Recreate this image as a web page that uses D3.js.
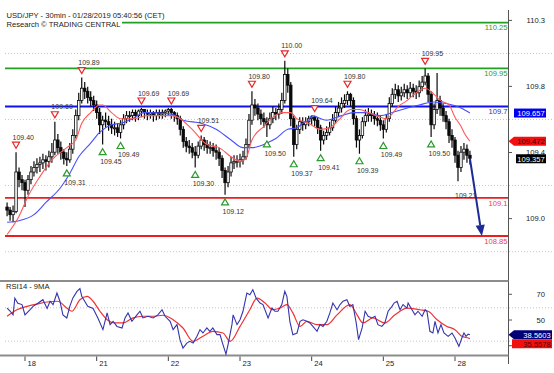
<!DOCTYPE html>
<html>
<head>
<meta charset="utf-8">
<script src="https://cdnjs.cloudflare.com/ajax/libs/d3/7.8.5/d3.min.js"></script>
<style>
  html, body { margin: 0; padding: 0; background: #fff; }
  svg { display: block; font-family: "Liberation Sans", Arial, sans-serif; }
</style>
</head>
<body>
<div id="chart"></div>
<script>
// hourly bars, index 0 = first bar on the left
var firstOpen = 109.04;
var closes = [109.02,108.99,109.01,109.27,109.22,109.20,109.15,109.22,109.27,109.30,
  109.32,109.33,109.35,109.34,109.37,109.40,109.48,109.43,109.40,109.36,
  109.35,109.42,109.51,109.64,109.74,109.82,109.80,109.76,109.74,109.71,
  109.66,109.58,109.61,109.60,109.58,109.56,109.56,109.53,109.58,109.62,
  109.64,109.64,109.66,109.64,109.67,109.68,109.66,109.65,109.66,109.64,
  109.66,109.65,109.66,109.67,109.68,109.66,109.64,109.62,109.55,109.47,
  109.44,109.43,109.40,109.38,109.44,109.48,109.45,109.43,109.43,109.41,
  109.40,109.36,109.28,109.20,109.27,109.33,109.34,109.34,109.35,109.37,
  109.45,109.61,109.71,109.69,109.65,109.62,109.60,109.58,109.62,109.66,
  109.65,109.68,109.74,109.91,109.84,109.62,109.45,109.55,109.60,109.58,
  109.60,109.62,109.63,109.61,109.56,109.48,109.51,109.53,109.56,109.61,
  109.66,109.69,109.72,109.74,109.78,109.74,109.62,109.48,109.51,109.60,
  109.64,109.65,109.64,109.62,109.61,109.58,109.55,109.62,109.72,109.78,
  109.81,109.77,109.79,109.81,109.79,109.82,109.80,109.79,109.83,109.86,
  109.90,109.78,109.58,109.68,109.74,109.69,109.64,109.60,109.51,109.48,
  109.38,109.30,109.40,109.42,109.38,109.36];
var highs = [109.07,109.04,109.05,109.40,109.30,109.25,109.22,109.25,109.31,109.34,
  109.36,109.37,109.39,109.38,109.41,109.46,109.60,109.52,109.47,109.42,
  109.40,109.46,109.55,109.68,109.79,109.89,109.86,109.83,109.80,109.77,
  109.74,109.69,109.64,109.66,109.64,109.62,109.60,109.59,109.61,109.65,
  109.67,109.67,109.68,109.68,109.68,109.69,109.68,109.68,109.68,109.67,
  109.68,109.68,109.68,109.68,109.69,109.69,109.67,109.66,109.64,109.57,
  109.50,109.48,109.46,109.44,109.47,109.51,109.50,109.48,109.47,109.46,
  109.45,109.43,109.38,109.30,109.31,109.37,109.38,109.38,109.39,109.41,
  109.49,109.65,109.80,109.75,109.72,109.68,109.66,109.63,109.66,109.70,
  109.69,109.72,109.79,110.00,109.95,109.86,109.64,109.58,109.63,109.63,
  109.63,109.64,109.64,109.64,109.63,109.58,109.54,109.57,109.60,109.65,
  109.70,109.73,109.76,109.78,109.80,109.79,109.76,109.64,109.55,109.63,
  109.68,109.69,109.68,109.67,109.66,109.64,109.61,109.65,109.76,109.82,
  109.85,109.84,109.83,109.85,109.84,109.86,109.85,109.84,109.87,109.90,
  109.95,109.92,109.80,109.72,109.92,109.77,109.72,109.67,109.62,109.55,
  109.50,109.41,109.44,109.46,109.45,109.41];
var lows = [108.98,108.95,108.94,109.00,109.17,109.15,109.04,109.12,109.19,109.24,
  109.26,109.27,109.29,109.28,109.30,109.33,109.38,109.39,109.35,109.32,
  109.31,109.33,109.39,109.49,109.61,109.72,109.75,109.72,109.70,109.67,
  109.62,109.52,109.45,109.56,109.54,109.52,109.51,109.50,109.49,109.55,
  109.59,109.60,109.61,109.60,109.61,109.63,109.62,109.61,109.62,109.60,
  109.61,109.62,109.62,109.63,109.64,109.62,109.60,109.58,109.51,109.43,
  109.40,109.39,109.36,109.30,109.36,109.42,109.41,109.39,109.39,109.37,
  109.35,109.31,109.23,109.12,109.17,109.24,109.29,109.30,109.30,109.32,
  109.35,109.43,109.58,109.64,109.61,109.58,109.56,109.50,109.55,109.59,
  109.61,109.62,109.65,109.72,109.79,109.57,109.37,109.42,109.52,109.54,
  109.55,109.57,109.58,109.57,109.52,109.41,109.45,109.48,109.51,109.54,
  109.59,109.63,109.66,109.69,109.71,109.70,109.58,109.43,109.39,109.49,
  109.57,109.60,109.60,109.58,109.57,109.54,109.49,109.53,109.60,109.70,
  109.75,109.73,109.74,109.76,109.75,109.76,109.76,109.75,109.76,109.80,
  109.84,109.73,109.50,109.55,109.65,109.64,109.60,109.55,109.46,109.43,
  109.33,109.21,109.27,109.35,109.33,109.32];

// moving averages: [bar index, value]
var fastMA = [[0,108.86],[4,108.98],[7,109.11],[11,109.24],[15,109.35],[20,109.43],[23,109.48],[25,109.59],
  [28,109.66],[31,109.71],[32,109.71],[35,109.66],[38,109.62],[42,109.62],[47,109.64],[51,109.64],[55,109.64],
  [58,109.62],[62,109.55],[67,109.45],[71,109.43],[75,109.37],[78,109.34],[80,109.36],[82,109.48],[86,109.57],
  [89,109.63],[92,109.66],[95,109.66],[97,109.62],[101,109.59],[105,109.55],[108,109.56],[111,109.61],
  [115,109.68],[118,109.68],[121,109.66],[125,109.63],[127,109.62],[131,109.70],[134,109.74],[137,109.79],
  [140,109.82],[143,109.78],[145,109.74],[148,109.71],[150,109.63],[152,109.57],[153,109.53],[155,109.472]];
var slowMA = [[0,108.94],[4,108.95],[9,108.99],[13,109.07],[18,109.17],[21,109.26],[24,109.37],[28,109.46],
  [31,109.53],[35,109.58],[38,109.59],[42,109.62],[46,109.66],[48,109.66],[55,109.65],[59,109.61],[65,109.59],
  [70,109.55],[75,109.48],[79,109.43],[82,109.43],[87,109.46],[90,109.49],[94,109.55],[97,109.56],[99,109.59],
  [101,109.61],[102,109.64],[107,109.61],[112,109.64],[116,109.66],[120,109.66],[125,109.64],[129,109.66],
  [134,109.69],[138,109.71],[143,109.73],[147,109.72],[152,109.69],[155,109.657]];

var highMarks = [[3,109.40],[16,109.60],[25,109.89],[45,109.69],[55,109.69],[65,109.51],[82,109.80],
  [93,110.00],[103,109.64],[114,109.80],[140,109.95]];
var lowMarks = [[20,109.31],[32,109.45],[38,109.49],[63,109.30],[73,109.12],[87,109.50],[96,109.37],
  [105,109.41],[118,109.39],[126,109.49],[142,109.50]];
var openLow = [151, 109.21];

var resistances = [110.25, 109.95];
var pivots = [109.7];
var supports = [109.1, 108.85];
var forecast = [[155, 109.357], [159, 108.85]];

var priceTicks = [110.265, 109.832, 109.398, 108.964];
var priceGrid = [110.048, 109.615, 109.181, 108.747];
var lastPrice = 109.357;

var rsi14 = [[0,59.3],[1,57],[2,54],[2.6,67],[3.6,63],[5,62],[6,54],[7.7,58],[8.7,60.6],[10.3,63],[12,65.8],
  [13.4,59],[14.4,64.6],[15.4,62],[16.7,71],[17.7,64.6],[18.7,54],[20,51.6],[21,60.6],[22,67],[23.4,72.3],
  [24.4,74.4],[25,68.4],[26,64.6],[27,60.6],[28.8,59],[30.4,51.6],[32.1,42.5],[33.5,55.5],[34.5,46.4],
  [35.5,49],[36.8,45],[38.5,43.8],[39.5,51.6],[40.5,55.5],[41.8,49],[43.5,54],[44.5,56.8],[45.5,51.6],
  [47.2,52.9],[48.9,51.6],[50.5,54],[51.9,58],[52.9,52.9],[54.6,49],[55.6,42.5],[56.9,46.4],[57.9,34.7],
  [58.9,28.2],[60.2,32],[61.2,33.4],[62.3,32],[63.6,37.3],[64.6,42.5],[65.6,39.9],[66.9,43.8],[67.9,41.2],
  [68.9,43.8],[70.3,38.6],[71.3,38.6],[72.3,30.8],[73.3,23.5],[74,30.8],[75.3,46.4],[75.7,54],[77,46.4],
  [78,50.2],[79,56.8],[80.3,71],[81.3,69.7],[82.3,73.6],[83.4,67],[84.7,63.2],[85.7,62],[87,54],[87.4,51.6],
  [88.7,59.3],[89.7,56.8],[90.7,56.8],[92,62],[93,72.3],[93.7,68.4],[94.7,49],[95.7,38.6],[97.1,39.9],
  [98.1,49],[99.1,50.2],[100.4,49],[101.4,47.7],[102.4,45],[103.8,41.2],[104.8,46.4],[105.8,45],[107.1,49],
  [108.1,55.5],[109.1,63.2],[110.5,58],[111.5,62],[112.5,64.6],[113.8,65.8],[114.8,60.6],[115.8,62],
  [116.9,48],[117.7,34.7],[118.9,43.8],[119.9,56.8],[120.9,52.9],[122.2,51.6],[123.2,52.9],[124.2,46.4],
  [125.5,45],[126.5,47.7],[127.6,56.8],[128.9,60.6],[129.6,63.2],[130.6,64.6],[131.6,58],[132.6,62],
  [133.9,59.3],[134.3,63.2],[135.6,58],[136.6,54],[137.6,56.8],[139,52.9],[140,58],[140.6,56.8],[141.6,41.2],
  [142.6,39.9],[143.3,49],[144.3,39.9],[145.3,46.4],[146.3,39.9],[147.7,37.3],[149,39.9],[150,36],
  [151.3,29.5],[152.3,36],[153,39.9],[153.7,37.3],[154.4,39],[155,38.5603]];
var rsiMA = [[0,53],[3.3,58],[6.7,60.6],[10,62.4],[13.4,64],[17,64.6],[20,59.3],[21.7,56.8],[24.4,65.8],
  [26.8,68.4],[28.8,64.6],[31.1,56.8],[33.5,50.2],[36.1,47.7],[38.8,47.7],[42.2,51.6],[45.5,52.9],[48.9,52.9],
  [52.2,53.7],[55.6,50.2],[58.9,43.8],[62.3,33.4],[65.6,37.3],[68.9,41.2],[72.3,39.9],[74.7,33.4],[78,45],
  [81.3,58],[83.7,67],[86.4,63.2],[89,58],[91.4,59.3],[93.7,62],[95.7,55.5],[98.1,45],[100.4,49],[103.8,46.4],
  [107.1,46.4],[110.5,54],[114.8,62],[117.2,54],[119.2,47.7],[122.5,51.6],[126.5,47.7],[129.9,54],
  [133.9,59.3],[138.3,58],[141,56.8],[144,50.2],[147.3,45],[150,42.5],[152.3,37.3],[154.4,36],[155,35.5578]];
var rsiTicks = [70, 50, 30];
var rsiTickLabels = ['70', '50', ''];   // the 30 label sits under the value box
var rsiGrid = [59.5, 33.5];

var dayStarts = [6, 30, 54, 78, 102, 126, 150];
var dayLabels = ['18', '21', '22', '23', '24', '25', '28'];

var W = 554, H = 373, plotL = 5, axisX = 508.5;
var FS = '7.6px';

var svg = d3.select('#chart').append('svg').attr('width', W).attr('height', H)
  .style('font-size', FS);

var x = d3.scaleLinear().domain([6, 150]).range([25, 455]);
var y = d3.scaleLinear().domain([110.25, 108.85]).range([22.7, 236]);
var yr = d3.scaleLinear().domain([70, 30]).range([294.3, 345.7]);
var fmt1 = d3.format('.1f'), fmt2 = d3.format('.2f');

// dotted grid
svg.append('g').selectAll('line').data(priceGrid).enter().append('line')
  .attr('x1', plotL).attr('x2', W).attr('y1', function(d) { return y(d); }).attr('y2', function(d) { return y(d); })
  .attr('stroke', '#c4c4c4').attr('stroke-dasharray', '1,2');
svg.append('g').selectAll('line').data(rsiGrid).enter().append('line')
  .attr('x1', plotL).attr('x2', W).attr('y1', function(d) { return yr(d); }).attr('y2', function(d) { return yr(d); })
  .attr('stroke', '#c4c4c4').attr('stroke-dasharray', '1,2');

// key levels
var levels = [];
resistances.forEach(function(v) { levels.push({v: v, line: '#22a022', text: '#2a9a2a'}); });
pivots.forEach(function(v) { levels.push({v: v, line: '#1010f0', text: '#3030c0'}); });
supports.forEach(function(v) { levels.push({v: v, line: '#ee1c1c', text: '#ee4050'}); });
var lv = svg.append('g').selectAll('g').data(levels).enter().append('g');
lv.append('line').attr('x1', plotL).attr('x2', axisX)
  .attr('y1', function(d) { return y(d.v); }).attr('y2', function(d) { return y(d.v); })
  .attr('stroke', function(d) { return d.line; }).attr('stroke-width', 1.8);
lv.append('text').attr('x', axisX - 1).attr('y', function(d) { return y(d.v) + 7.6; })
  .attr('text-anchor', 'end').attr('fill', function(d) { return d.text; })
  .text(function(d) { return String(d.v); });

// header
svg.append('rect').attr('x', 0).attr('y', 19).attr('width', 122).attr('height', 10).attr('fill', '#fff');
svg.append('text').attr('x', 6.5).attr('y', 17.7).attr('fill', '#222')
  .text('USD/JPY - 30min - 01/28/2019 05:40:56 (CET)');
svg.append('text').attr('x', 6.5).attr('y', 27.4).attr('fill', '#222')
  .text('Research \u00a9 TRADING CENTRAL');

// candles
var bars = closes.map(function(c, i) {
  return {i: i, o: i ? closes[i - 1] : firstOpen, c: c, h: highs[i], l: lows[i]};
});
var cg = svg.append('g');
cg.selectAll('line').data(bars).enter().append('line')
  .attr('x1', function(d) { return x(d.i); }).attr('x2', function(d) { return x(d.i); })
  .attr('y1', function(d) { return y(d.h); }).attr('y2', function(d) { return y(d.l); })
  .attr('stroke', '#0a0a0a').attr('stroke-width', 1.2);
cg.selectAll('rect').data(bars).enter().append('rect')
  .attr('x', function(d) { return x(d.i) - 1.25; }).attr('width', 2.5)
  .attr('y', function(d) { return y(Math.max(d.o, d.c)); })
  .attr('height', function(d) { return Math.max(1, Math.abs(y(d.o) - y(d.c))); })
  .attr('fill', function(d) { return d.c >= d.o ? '#fff' : '#0a0a0a'; })
  .attr('stroke', '#0a0a0a').attr('stroke-width', 0.8);

// moving averages
var maLine = d3.line().x(function(d) { return x(d[0]); }).y(function(d) { return y(d[1]); }).curve(d3.curveMonotoneX);
svg.append('path').datum(slowMA).attr('d', maLine).attr('fill', 'none').attr('stroke', '#4650ff').attr('stroke-width', 1.1);
svg.append('path').datum(fastMA).attr('d', maLine).attr('fill', 'none').attr('stroke', '#ff5a5a').attr('stroke-width', 1.1);

// swing markers
var hm = svg.append('g').selectAll('g').data(highMarks).enter().append('g');
hm.append('polygon').attr('points', function(d) {
  var cx = x(d[0]), cy = y(d[1]);
  return [[cx - 3.5, cy - 10], [cx + 3.5, cy - 10], [cx, cy - 4]].join(' ');
}).attr('fill', '#fff').attr('stroke', '#e82828').attr('stroke-width', 1.2);
hm.append('text').attr('x', function(d) { return x(d[0]) - 3.5; }).attr('y', function(d) { return y(d[1]) - 12.5; })
  .attr('fill', '#333').style('font-size', '7px').text(function(d) { return fmt2(d[1]); });

var lm = svg.append('g').selectAll('g').data(lowMarks).enter().append('g');
lm.append('polygon').attr('points', function(d) {
  var cx = x(d[0]), cy = y(d[1]);
  return [[cx, cy + 4], [cx - 3.5, cy + 10], [cx + 3.5, cy + 10]].join(' ');
}).attr('fill', '#fff').attr('stroke', '#2a9a2a').attr('stroke-width', 1.2);
lm.append('text').attr('x', function(d) { return x(d[0]) - 2.5; }).attr('y', function(d) { return y(d[1]) + 19; })
  .attr('fill', '#333').style('font-size', '7px').text(function(d) { return fmt2(d[1]); });
svg.append('text').attr('x', x(openLow[0]) - 3).attr('y', y(openLow[1]) + 16.5)
  .attr('fill', '#333').style('font-size', '7px').text(fmt2(openLow[1]));

// forecast arrow
var fx0 = x(forecast[0][0]), fy0 = y(forecast[0][1]), fx1 = x(forecast[1][0]), fy1 = y(forecast[1][1]);
var ang = Math.atan2(fy1 - fy0, fx1 - fx0), hl = 11, hw = 4.6;
var bx = fx1 - hl * Math.cos(ang), by = fy1 - hl * Math.sin(ang);
svg.append('line').attr('x1', fx0).attr('y1', fy0).attr('x2', bx).attr('y2', by)
  .attr('stroke', '#1e2a96').attr('stroke-width', 2);
svg.append('polygon').attr('points', [[fx1, fy1],
  [bx + hw * Math.sin(ang), by - hw * Math.cos(ang)],
  [bx - hw * Math.sin(ang), by + hw * Math.cos(ang)]].join(' ')).attr('fill', '#1e2a96');

// right axis
svg.append('line').attr('x1', axisX).attr('x2', axisX).attr('y1', 10).attr('y2', 364).attr('stroke', '#555');
var pt = svg.append('g').selectAll('g').data(priceTicks).enter().append('g');
pt.append('line').attr('x1', axisX).attr('x2', axisX + 3.5)
  .attr('y1', function(d) { return y(d); }).attr('y2', function(d) { return y(d); }).attr('stroke', '#555');
pt.append('text').attr('x', 545).attr('y', function(d) { return y(d) + 2.7; }).attr('text-anchor', 'end')
  .attr('fill', '#222').text(function(d) { return fmt1(d); });

function valueBox(yc, label, fill, textFill, pointed, x0, x1) {
  var h = 9, pts = [[x0, yc - h / 2], [x1, yc - h / 2], [x1, yc + h / 2], [x0, yc + h / 2]];
  if (pointed) pts.unshift([axisX, yc]);
  svg.append('polygon').attr('points', pts.join(' ')).attr('fill', fill);
  svg.append('text').attr('x', x1 - 1.2).attr('y', yc + 2.8).attr('text-anchor', 'end')
    .attr('fill', textFill).text(label);
}
var lastSlow = slowMA[slowMA.length - 1][1], lastFast = fastMA[fastMA.length - 1][1];
valueBox(y(lastSlow), String(lastSlow), '#0000f0', '#fff', false, 514, 546);
valueBox(y(lastFast), String(lastFast), '#f01010', '#3a0000', true, 514, 546);
valueBox(y(lastPrice), String(lastPrice), '#000', '#fff', false, 516, 546);

// RSI panel
svg.append('line').attr('x1', 0).attr('x2', axisX).attr('y1', 281).attr('y2', 281).attr('stroke', '#8c8c8c').attr('stroke-width', 2);
svg.append('line').attr('x1', 0).attr('x2', axisX).attr('y1', 355.5).attr('y2', 355.5).attr('stroke', '#8c8c8c').attr('stroke-width', 2);
svg.append('text').attr('x', 6).attr('y', 289).attr('fill', '#222').text('RSI14 - 9MA');

var rsiLine = d3.line().x(function(d) { return x(d[0]); }).y(function(d) { return yr(d[1]); });
svg.append('path').datum(rsiMA).attr('d', rsiLine.curve(d3.curveMonotoneX)).attr('fill', 'none')
  .attr('stroke', '#f03232').attr('stroke-width', 1.2);
svg.append('path').datum(rsi14).attr('d', d3.line().x(function(d) { return x(d[0]); }).y(function(d) { return yr(d[1]); }))
  .attr('fill', 'none').attr('stroke', '#3434ae').attr('stroke-width', 1.1);

var rt = svg.append('g').selectAll('g').data(rsiTicks).enter().append('g');
rt.append('line').attr('x1', axisX).attr('x2', axisX + 3.5)
  .attr('y1', function(d) { return yr(d); }).attr('y2', function(d) { return yr(d); }).attr('stroke', '#555');
rt.append('text').attr('x', 545).attr('y', function(d) { return yr(d) + 2.7; }).attr('text-anchor', 'end')
  .attr('fill', '#222').text(function(d, i) { return rsiTickLabels[i]; });

var lastRsi = rsi14[rsi14.length - 1][1], lastRsiMA = rsiMA[rsiMA.length - 1][1];
var yRsi = yr(lastRsi), yRsiMA = Math.max(yr(lastRsiMA), yRsi + 9);
valueBox(yRsi, String(lastRsi), '#000078', '#fff', true, 514, 552);
valueBox(yRsiMA, String(lastRsiMA), '#f01010', '#5a0000', false, 512, 552);

// date axis
var dg = svg.append('g').selectAll('g').data(dayStarts).enter().append('g');
dg.append('line').attr('x1', function(d) { return x(d); }).attr('x2', function(d) { return x(d); })
  .attr('y1', 356.5).attr('y2', 361).attr('stroke', '#444');
dg.append('text').attr('x', function(d) { return x(d) + 2.5; }).attr('y', 366).attr('fill', '#222')
  .text(function(d, i) { return dayLabels[i]; });
</script>
</body>
</html>
